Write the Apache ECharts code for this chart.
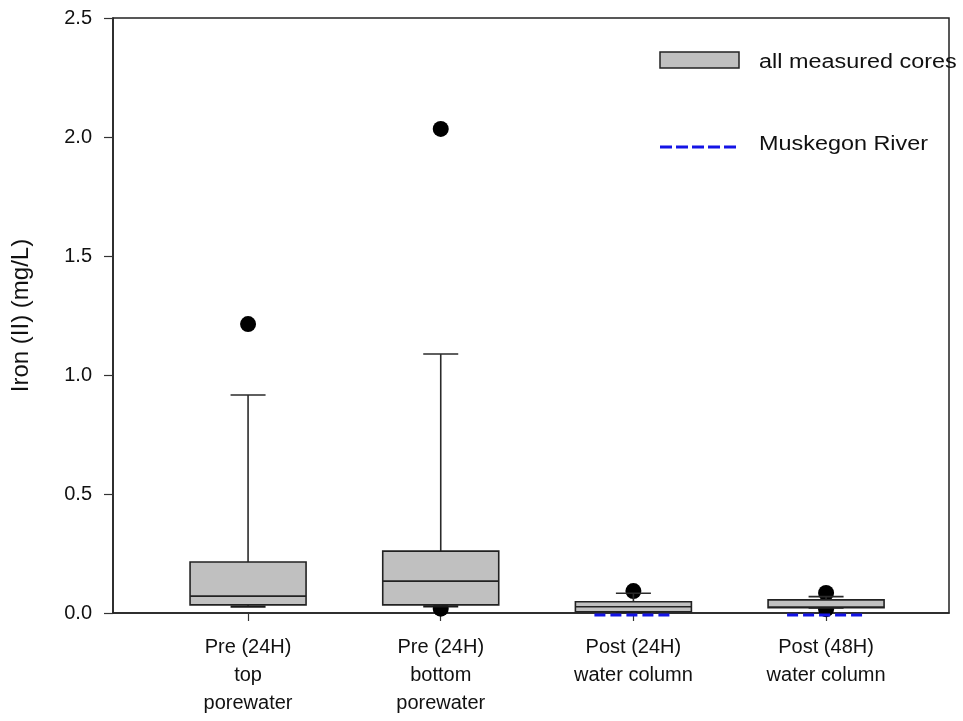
<!DOCTYPE html>
<html>
<head>
<meta charset="utf-8">
<script src="https://cdn.jsdelivr.net/npm/echarts@6/dist/echarts.min.js"></script>
<style>html,body{margin:0;padding:0;background:#fff;}#c{width:963px;height:721px;}</style>
</head>
<body>
<div id="c"></div>
<script>
// ---- data ----
const categories = ["Pre (24H)\ntop\nporewater", "Pre (24H)\nbottom\nporewater", "Post (24H)\nwater column", "Post (48H)\nwater column"];
const positions = [1, 2, 3, 4];
const lowerWhisker = [0.027, 0.028, 0.005, 0.022];
const q1 = [0.034, 0.034, 0.005, 0.022];
const median = [0.071, 0.134, 0.026, 0.025];
const q3 = [0.214, 0.260, 0.047, 0.055];
const upperWhisker = [0.916, 1.088, 0.083, 0.069];
const outlierPos = [1, 2, 2, 3, 4, 4];
const outlierVal = [1.214, 2.034, 0.018, 0.092, 0.084, 0.016];
const riverPos = [3, 4];
const riverVal = [-0.008, -0.008];

const FONT = '"Liberation Sans", Arial, sans-serif';
const boxData = positions.map((p, i) => [p, lowerWhisker[i], q1[i], median[i], q3[i], upperWhisker[i]]);
const outlierData = outlierPos.map((p, i) => [p, outlierVal[i]]);
const riverData = riverPos.map((p, i) => [p, riverVal[i]]);

const chart = echarts.init(document.getElementById('c'), null, {renderer: 'canvas'});

function renderBox(params, api) {
  const x = api.value(0);
  const pLow = api.coord([x, api.value(1)]);
  const pQ1 = api.coord([x, api.value(2)]);
  const pMed = api.coord([x, api.value(3)]);
  const pQ3 = api.coord([x, api.value(4)]);
  const pHigh = api.coord([x, api.value(5)]);
  const cx = pQ1[0];
  const hw = 58, cw = 17.5;
  const lineStyle = {stroke: '#2a2a2a', lineWidth: 1.6};
  return {
    type: 'group',
    children: [
      {type: 'line', shape: {x1: cx, y1: pQ3[1], x2: cx, y2: pHigh[1]}, style: lineStyle},
      {type: 'line', shape: {x1: cx - cw, y1: pHigh[1], x2: cx + cw, y2: pHigh[1]}, style: lineStyle},
      {type: 'line', shape: {x1: cx, y1: pQ1[1], x2: cx, y2: pLow[1]}, style: lineStyle},
      {type: 'line', shape: {x1: cx - cw, y1: pLow[1], x2: cx + cw, y2: pLow[1]}, style: {stroke: '#1a1a1a', lineWidth: 2.2}},
      {type: 'rect', shape: {x: cx - hw, y: pQ3[1], width: 2 * hw, height: pQ1[1] - pQ3[1]},
        style: {fill: '#c0c0c0', stroke: '#222', lineWidth: 1.6}},
      {type: 'line', shape: {x1: cx - hw, y1: pMed[1], x2: cx + hw, y2: pMed[1]}, style: {stroke: '#222', lineWidth: 1.6}}
    ]
  };
}

function renderRiver(params, api) {
  const p = api.coord([api.value(0), api.value(1)]);
  return {
    type: 'line',
    shape: {x1: p[0] - 39, y1: p[1], x2: p[0] + 37, y2: p[1]},
    style: {stroke: '#1414e6', lineWidth: 3, lineDash: [11, 5]}
  };
}

const option = {
  animation: false,
  backgroundColor: '#fff',
  grid: {left: 113, right: 14, top: 18, bottom: 108, show: true, borderColor: '#222', borderWidth: 1.5,
         backgroundColor: 'transparent', containLabel: false, outerBoundsMode: 'none'},
  xAxis: {
    type: 'value', min: 0.299, max: 4.638,
    splitLine: {show: false},
    axisLine: {show: true, lineStyle: {color: '#222', width: 1.5}},
    axisTick: {show: true, inside: false, length: 8, customValues: positions, lineStyle: {color: '#333', width: 1.2}},
    axisLabel: {
      show: true, customValues: positions, margin: 20,
      formatter: v => categories[Math.round(v) - 1] || '',
      fontFamily: FONT, fontSize: 20, lineHeight: 28, color: '#111', align: 'center'
    }
  },
  yAxis: {
    type: 'value', min: 0, max: 2.5, interval: 0.5,
    name: 'Iron (II) (mg/L)', nameLocation: 'middle', nameGap: 80,
    nameTextStyle: {fontFamily: FONT, fontSize: 24, color: '#111'},
    splitLine: {show: false},
    axisLine: {show: true, lineStyle: {color: '#222', width: 1.5}},
    axisTick: {show: true, inside: false, length: 9, lineStyle: {color: '#333', width: 1.2}},
    axisLabel: {margin: 21, fontFamily: FONT, fontSize: 20, color: '#111', formatter: v => v.toFixed(1)}
  },
  graphic: [
    {type: 'rect', x: 660, y: 52, shape: {width: 79, height: 16}, style: {fill: '#c0c0c0', stroke: '#222', lineWidth: 1.5}, z: 100},
    {type: 'text', x: 759, y: 62, scaleX: 1.17, style: {text: 'all measured cores', font: '20px ' + FONT, fill: '#111', verticalAlign: 'middle'}, z: 100},
    {type: 'line', shape: {x1: 660, y1: 147, x2: 738, y2: 147}, style: {stroke: '#1414e6', lineWidth: 3, lineDash: [12, 4]}, z: 100},
    {type: 'text', x: 759, y: 144, scaleX: 1.17, style: {text: 'Muskegon River', font: '20px ' + FONT, fill: '#111', verticalAlign: 'middle'}, z: 100}
  ],
  series: [
    {type: 'scatter', data: outlierData, symbol: 'circle', symbolSize: 16, itemStyle: {color: '#000', opacity: 1}, clip: true, z: 2},
    {type: 'custom', data: boxData, renderItem: renderBox, encode: {x: 0, y: [1, 2, 3, 4, 5]}, clip: false, z: 3},
    {type: 'custom', data: riverData, renderItem: renderRiver, encode: {x: 0, y: 1}, clip: false, z: 4}
  ]
};
chart.setOption(option);
</script>
</body>
</html>
